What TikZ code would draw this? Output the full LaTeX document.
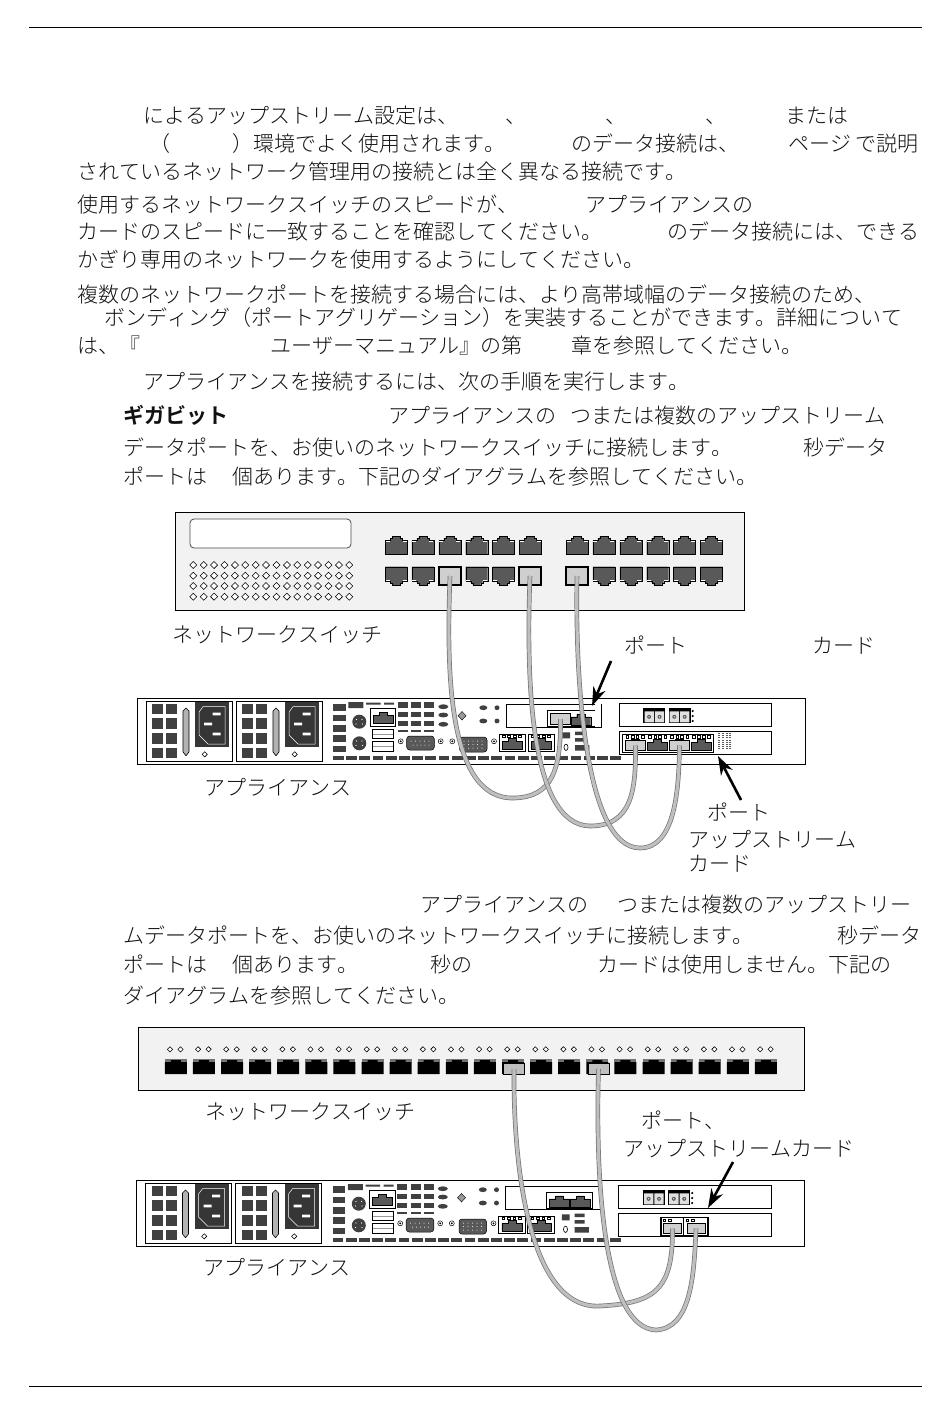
\documentclass[tikz,border=0pt]{standalone}
\usepackage{fontspec}
\setmainfont{Noto Sans CJK JP}[Kerning=Off,UprightFont=* Light,BoldFont=* Bold]
\usetikzlibrary{arrows.meta,positioning}
\definecolor{paneldark}{HTML}{404040}
\definecolor{portdark}{HTML}{595959}
\definecolor{plugfill}{HTML}{CFCFCF}
\definecolor{chassisfill}{HTML}{F2F2F2}
\definecolor{inktext}{HTML}{111111}
\newcommand{\zenL}{\symbol{"FF08}}
\newcommand{\zenR}{\symbol{"FF09}}
\tikzset{
	txt/.style={anchor=west,inner sep=0pt,yshift=-4.5pt,text=inktext,text height=.88em,text depth=.12em,font=\fontsize{21}{24}\selectfont},
	chassis/.style={draw=black,line width=.8pt,fill=chassisfill},
	slotbox/.style={draw=black,line width=.8pt,fill=white},
	plugbox/.style={draw=black,line width=1.3pt,fill=plugfill,inner sep=0pt},
	cable/.style={draw=black!55,double=black!25,double distance=3.2pt,line width=.7pt},
	callout/.style={line width=2.6pt,-{Stealth[length=19pt,width=13pt]}},
	rjport/.pic={\fill[portdark,draw=black,line width=.4pt] (0,4.5)--(5,4.5)--(5,2)--(7,2)--(7,0)--(15,0)--(15,2)--(17,2)--(17,4.5)--(22,4.5)--(22,18.5)--(0,18.5)--cycle;\draw[white,line width=.9pt] (.5,5.2)--(4.5,5.2) (17.5,5.2)--(21.5,5.2);},
	blackport/.pic={\fill[black!55] (0,0) rectangle (22,3.5);\fill[black] (0,3.5)--(6,3.5)--(6,1.5)--(16,1.5)--(16,3.5)--(22,3.5)--(22,15.5)--(0,15.5)--cycle;},
	minirj/.pic={\fill[portdark,draw=black,line width=.3pt] (0,3)--(6,3)--(6,0)--(14,0)--(14,3)--(20,3)--(20,11)--(0,11)--cycle;},
	tinydia/.pic={\draw[line width=.55pt,fill=white] (-2.6,0)--(0,-2.6)--(2.6,0)--(0,2.6)--cycle;},
	leds/.pic={\draw[line width=.5pt,fill=white] (0,0) rectangle (3,2.5) (6,0) rectangle (9,2.5);},
	duplex/.pic={\fill[black] (0,0) rectangle (22,15);\fill[black!12] (1.2,3) rectangle (10.5,14) (11.5,3) rectangle (20.8,14);\fill[portdark] (5.8,8.5) circle (2) (16.2,8.5) circle (2);\fill[white] (5.8,8.5) circle (.7) (16.2,8.5) circle (.7);}
}
\newcommand{\applianceback}{
	\draw[line width=.8pt,fill=white] (137,698) rectangle (805,764);
	\foreach \px in {0,90}{
		\begin{scope}[shift={(\px,0)}]
		\draw[line width=.8pt] (146.3,701) rectangle (232.3,761.3);
		\foreach \cx in {152,166}
			\foreach \cy in {703.7,718,733,747.7}
				\fill[paneldark] (\cx,\cy) rectangle ++(11.3,10.6);
		\draw[fill=black!30,line width=.6pt] (186,708)--(189,711)--(189,752)--(186,755.7)--(183,752)--(183,711)--cycle;
		\fill[paneldark!85!black] (195,701.7) rectangle (229.3,746.7);
		\draw[white,line width=.5pt] (203,706.7)--(225,706.7)--(225,744)--(208,744)--(199,735)--(199,712)--cycle;
		\fill[white] (212.7,712.7) rectangle ++(8,2.6) (204,722.7) rectangle ++(8,2.6) (212.7,732.7) rectangle ++(8,2.6);
		\path (204.7,754.3) pic {tinydia};
		\end{scope}
	}
	\foreach \cy in {704,714.7,725,735,745.7}
		\fill[paneldark] (333,\cy) rectangle ++(12.7,6.7);
	\fill[paneldark] (348.3,702) rectangle (363.3,708) (366,702.7) rectangle (380.7,704.7) (384,702.7) rectangle (394,704.7);
	\foreach \cx in {397.7,411,424}{
		\foreach \cy in {702,711.7,720.7}
			\fill[paneldark] (\cx,\cy) rectangle ++(10,5.6);
		\fill[paneldark] (\cx,730) rectangle ++(10,2);
	}
	\fill[paneldark] (359.3,721.7) circle (7) (359.3,743.3) circle (7);
	\fill[white] (356.5,719.5) circle (.6) (362,719.5) circle (.6) (356,724) circle (.6) (362.5,724) circle (.6) (356.5,741) circle (.6) (362,741) circle (.6) (356,745.5) circle (.6) (362.5,745.5) circle (.6);
	\draw[line width=.8pt,fill=white] (370.3,708.3) rectangle (395.7,726);
	\path (373,712.5) pic {minirj};
	\draw[line width=.5pt] (372.3,729.3) rectangle (393.7,738.7) (372.3,741.7) rectangle (393.7,751);
	\draw[black!40,line width=.5pt] (373,734)--(393,734) (373,746.3)--(393,746.3);
	\foreach \sx in {400.7,440.7,452.3,494}
		\draw[line width=.5pt] (\sx,741.3) circle (2.5) (\sx,741.3) circle (.7);
	\fill[portdark,draw=black,line width=.5pt,rounded corners=3pt] (406.7,736) rectangle (434.3,750) (459.5,737) rectangle (487,752);
	\foreach \pinx in {0,...,4}{
		\fill[white] ({411+\pinx*4.5},741) circle (.5) ({413+\pinx*4},745) circle (.5);
		\fill[white] ({464+\pinx*4.5},741) circle (.5) ({464+\pinx*4.5},744.5) circle (.5) ({464+\pinx*4.5},748) circle (.5);
	}
	\foreach \oy in {706.7,715,724.3}
		\fill[paneldark] (443.3,\oy) ellipse (5 and 2.4);
	\draw[fill=black!40,line width=.4pt] (462,711.5)--(466,715.7)--(462,720)--(458,715.7)--cycle;
	\fill[paneldark] (483.3,707.7) ellipse (4 and 2.4) (483.3,721) ellipse (4 and 2.4) (497,707.7) ellipse (2.5 and 2.4) (497,721) ellipse (2.5 and 2.4);
	\foreach \dx in {0,...,21}
		\fill[paneldark] ({333+\dx*13.2},755.7) rectangle ++(10.8,4);
	\draw[line width=.8pt] (506,704) rectangle (601.7,727.3);
	\foreach \nx in {499.3,528.3}{
		\draw[line width=.9pt,fill=white] (\nx,734) rectangle ++(26.4,17.7);
		\path (\nx+3,738.5) pic {minirj};
		\path (\nx+3,735) pic[scale=.9] {leds} (\nx+14,735) pic[scale=.9] {leds};
	}
	\fill[paneldark] (562.3,732.3) rectangle (570,738.3) (575,731.5) rectangle (585,735) (575,738) rectangle (585,741.5) (575,745) rectangle (589.3,750.7);
	\draw[line width=.6pt] (566,747.3) ellipse (2 and 3.2);
	\draw[line width=.8pt] (619.3,703.3) rectangle (771.7,726.7);
	\draw[line width=.8pt] (619.3,731.3) rectangle (771.7,754.7);
	\path (643.3,708.3) pic {duplex} (668.5,708.3) pic {duplex};
	\foreach \dy in {711,716,721}
		\fill[black] (692.7,\dy) circle (1.2);
}
\begin{document}
\begin{tikzpicture}[x=1pt,y=-1pt]
	\useasboundingbox (0,0) rectangle (950,1414);
	\fill[white] (0,0) rectangle (950,1414);
	\draw[line width=1pt] (29,27.5)--(922,27.5);
	\draw[line width=1pt] (29,1386)--(922,1386);
	\node[txt] (intro1a) at (143,115) {によるアップストリーム設定は、};
	\node[txt] (intro1b) at (505,115) {、};
	\node[txt] (intro1c) at (605,115) {、};
	\node[txt] (intro1d) at (705,115) {、};
	\node[txt] (intro1e) at (785,115) {または};
	\node[txt] (intro2a) at (149,143) {\zenL};
	\node[txt] (intro2b) at (232,143) {\zenR 環境でよく使用されます。};
	\node[txt] (intro2c) at (571,143) {のデータ接続は、};
	\node[txt] (intro2d) at (788,143) {ページ};
	\node[txt] (intro2e) at (855,143) {で説明};
	\node[txt] (intro3) at (77,171) {されているネットワーク管理用の接続とは全く異なる接続です。};
	\node[txt] (speed1a) at (77,204) {使用するネットワークスイッチのスピードが、};
	\node[txt] (speed1b) at (585,204) {アプライアンスの};
	\node[txt] (speed2a) at (77,231) {カードのスピードに一致することを確認してください。};
	\node[txt] (speed2b) at (667,231) {のデータ接続には、できる};
	\node[txt] (speed3) at (77,259) {かぎり専用のネットワークを使用するようにしてください。};
	\node[txt] (bond1) at (77,294) {複数のネットワークポートを接続する場合には、より高帯域幅のデータ接続のため、};
	\node[txt] (bond2) at (104,317) {ボンディング\zenL ポートアグリゲーション\zenR を実装することができます。詳細について};
	\node[txt] (bond3a) at (77,345) {は、『};
	\node[txt] (bond3b) at (270,345) {ユーザーマニュアル』の第};
	\node[txt] (bond3c) at (571,345) {章を参照してください。};
	\node[txt] (steps) at (143,381) {アプライアンスを接続するには、次の手順を実行します。};
	\node[txt,font=\fontsize{21}{24}\selectfont\bfseries] (gig1a) at (123,415) {ギガビット};
	\node[txt] (gig1b) at (388,415) {アプライアンスの};
	\node[txt] (gig1c) at (570,415) {つまたは複数のアップストリーム};
	\node[txt] (gig2a) at (123,447) {データポートを、お使いのネットワークスイッチに接続します。};
	\node[txt] (gig2b) at (803,447) {秒データ};
	\node[txt] (gig3a) at (123,476) {ポートは};
	\node[txt] (gig3b) at (232,476) {個あります。下記のダイアグラムを参照してください。};
	\node[txt] (ten1a) at (420,904) {アプライアンスの};
	\node[txt] (ten1b) at (617,904) {つまたは複数のアップストリー};
	\node[txt] (ten2a) at (123,935) {ムデータポートを、お使いのネットワークスイッチに接続します。};
	\node[txt] (ten2b) at (837,935) {秒データ};
	\node[txt] (ten3a) at (123,964) {ポートは};
	\node[txt] (ten3b) at (232,964) {個あります。};
	\node[txt] (ten3c) at (430,964) {秒の};
	\node[txt] (ten3d) at (597,964) {カードは使用しません。下記の};
	\node[txt] (ten4) at (123,995) {ダイアグラムを参照してください。};
	\draw[chassis] (175,512) rectangle (744,610);
	\draw[line width=.8pt,black!70,fill=white,rounded corners=4pt] (190,519) rectangle (351,548);
	\foreach \rowy in {565,575.7,586,596.7}
		\foreach \colx in {0,...,15}
			\path ({193.3+\colx*10.4},\rowy) pic[scale=1.35] {tinydia};
	\foreach \startx in {385,566}
		\foreach \portn in {0,...,5}{
			\path ({\startx+\portn*26.9},536) pic {rjport};
			\path ({\startx+\portn*26.9},585.2) pic[yscale=-1] {rjport};
		}
	\node[plugbox,minimum width=22pt,minimum height=18pt] (swa) at (450,576) {};
	\node[plugbox,minimum width=22pt,minimum height=18pt] (swb) at (530,576) {};
	\node[plugbox,minimum width=22pt,minimum height=18pt] (swc) at (577,576) {};
	\applianceback
	\draw[line width=.8pt,fill=white] (547.3,710.7) rectangle (595,726.7);
	\path (570.7,713.8) pic {minirj};
	\fill[white] (595,704) rectangle (601.7,727);
	\draw[line width=.8pt] (601.7,704)--(601.7,727.3);
	\node[plugbox,line width=.8pt,minimum width=20pt,minimum height=11pt] (slota) at (560.5,719) {};
	\draw[line width=.9pt,fill=white] (622.7,734) rectangle (713.3,752.3);
	\foreach \cardx in {625,647.5,669.5,691.3}{
		\path (\cardx,739.5) pic {minirj};
		\path (\cardx+1,735.5) pic[scale=.9] {leds} (\cardx+11,735.5) pic[scale=.9] {leds};
	}
	\node[plugbox,line width=.8pt,minimum width=20pt,minimum height=10pt] (carda) at (635.5,745.5) {};
	\node[plugbox,line width=.8pt,minimum width=20pt,minimum height=10pt] (cardb) at (679.5,745.5) {};
	\foreach \dotx in {719,723,727,730}
		\draw[black!65,line width=1.2pt,dash pattern=on 1pt off 1.2pt] (\dotx,733)--(\dotx,750);
	\path[cable] (swa.center) .. controls (447,660) and (445,800) .. (514,798) .. controls (552,797) and (561,770) .. (slota.center);
	\path[cable] (swb.center) .. controls (526,680) and (530,825) .. (590,826) .. controls (632,826) and (636,790) .. (carda.center);
	\path[cable] (swc.center) .. controls (575,680) and (585,848) .. (640,848) .. controls (675,848) and (679,790) .. (cardb.center);
	\node[txt] (switchlabela) at (172,634) {ネットワークスイッチ};
	\node[txt] (portlabela) at (624,645) {ポート};
	\node[txt] (cardlabela) at (812,645) {カード};
	\node[txt] (applabela) at (204,787) {アプライアンス};
	\node[txt] (portlabelb) at (707,812) {ポート};
	\node[txt] (upstreamlabela) at (688,839) {アップストリーム};
	\node[txt] (cardlabelb) at (688,863) {カード};
	\coordinate (arrowatail) at (611,661);
	\coordinate (arrowahead) at (592,706);
	\coordinate (arrowbtail) at (741,800);
	\coordinate (arrowbhead) at (718,756);
	\draw[callout] (arrowatail)--(arrowahead);
	\draw[callout] (arrowbtail)--(arrowbhead);
	\draw[chassis] (138,1027) rectangle (804,1090.5);
	\foreach \portn in {0,...,21}{
		\path ({164.8+\portn*28.1},1058.5) pic {blackport};
		\path ({170+\portn*28.1},1049.3) pic {tinydia} ({180.5+\portn*28.1},1049.3) pic {tinydia};
	}
	\node[plugbox,line width=.7pt,fill=black!25,minimum width=21pt,minimum height=11pt] (swd) at (514,1069) {};
	\node[plugbox,line width=.7pt,fill=black!25,minimum width=21pt,minimum height=11pt] (swe) at (598.5,1069) {};
	\begin{scope}[shift={(-.5,482)}]
		\applianceback
		\draw[line width=.8pt,fill=white] (547.3,710.7) rectangle (593,726.7);
		\path (550,713.8) pic {minirj} (571,713.8) pic {minirj};
	\end{scope}
	\draw[line width=1.2pt,fill=white] (661,1217.6) rectangle (708,1235.5);
	\draw[line width=1.2pt] (683.6,1217.6)--(683.6,1235.5);
	\path (663,1219) pic[scale=.9] {leds} (686,1219) pic[scale=.9] {leds};
	\node[plugbox,line width=.6pt,minimum width=18pt,minimum height=10pt] (cardc) at (672.5,1228.5) {};
	\node[plugbox,line width=.6pt,minimum width=18pt,minimum height=10pt] (cardd) at (696,1228.5) {};
	\path[cable] (swd.center) .. controls (513,1170) and (530,1310) .. (600,1306) .. controls (655,1303) and (673,1290) .. (cardc.center);
	\path[cable] (swe.center) .. controls (595,1190) and (605,1328) .. (656,1330) .. controls (690,1328) and (694,1280) .. (cardd.center);
	\node[txt] (switchlabelb) at (205,1111) {ネットワークスイッチ};
	\node[txt] (portlabelc) at (641,1120) {ポート、};
	\node[txt] (upstreamlabelb) at (623,1148) {アップストリームカード};
	\node[txt] (applabelb) at (203,1267) {アプライアンス};
	\coordinate (arrowctail) at (733,1162);
	\coordinate (arrowchead) at (708,1208);
	\draw[callout] (arrowctail)--(arrowchead);
\end{tikzpicture}
\end{document}
